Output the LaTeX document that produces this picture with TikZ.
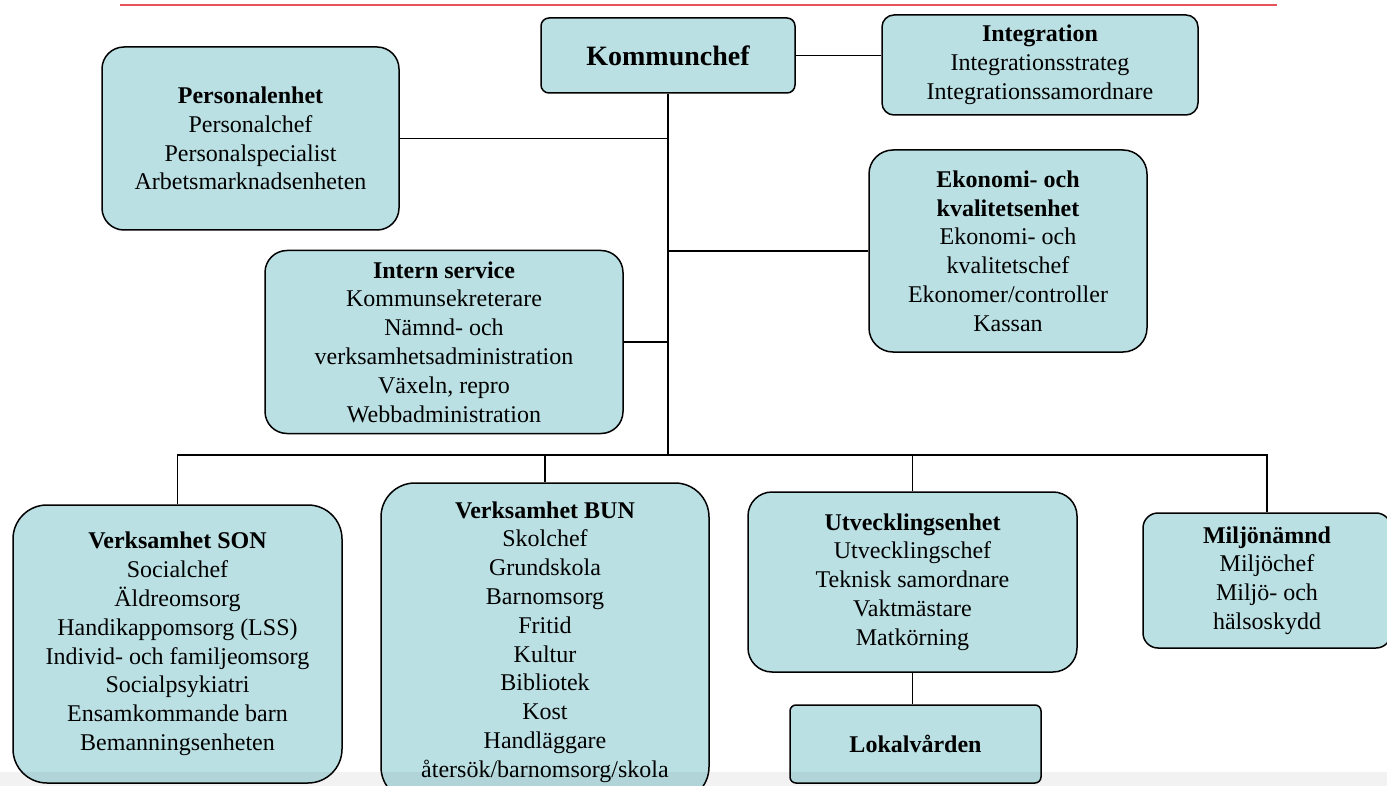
\documentclass[tikz,border=0pt]{standalone}
\usepackage{fontspec}
\setmainfont{Liberation Serif}
\usepackage{xcolor}
\definecolor{unitfill}{HTML}{BAE0E3}
\definecolor{topline}{HTML}{E8535A}
\usepackage{tikz}
\tikzset{
    unit/.style={
        draw, line width=0.75pt,
        fill=unitfill,
        rounded corners=#1,
        align=center,
        inner sep=0pt,
        font=\fontsize{12}{14.4}\selectfont
    },
    unit/.default=6pt,
    conn/.style={
        line width=0.75pt,
    },
}

\begin{document}
\begin{tikzpicture}[x=0.5pt, y=-0.5pt]
    \useasboundingbox (0,0) rectangle (1387,786);
    % Top rule
    \draw[topline, line width=1pt] (120,5) -- (1277,5);

    % Draw units
    \node[unit=4pt, minimum width=127pt, minimum height=37.5pt,
          font=\fontsize{14}{16}\selectfont\bfseries] (kc) at (668,55.5) {Kommunchef};
    \node[unit=6pt, minimum width=158pt, minimum height=50pt] (integ) at (1040,65)
        {\textbf{Integration}\\Integrationsstrateg\\Integrationssamordnare};
    \node[unit=11pt, minimum width=148.5pt, minimum height=91.5pt] (pers) at (250.5,138.5)
        {\textbf{Personalenhet}\\Personalchef\\Personalspecialist\\Arbetsmarknadsenheten};
    \node[unit=12pt, minimum width=139pt, minimum height=101pt] (ekon) at (1008,251)
        {\textbf{Ekonomi- och}\\\textbf{kvalitetsenhet}\\Ekonomi- och\\kvalitetschef\\Ekonomer/controller\\Kassan};
    \node[unit=11pt, minimum width=179pt, minimum height=91.5pt] (intern) at (444,342)
        {\textbf{Intern service}\\Kommunsekreterare\\Nämnd- och\\verksamhetsadministration\\Växeln, repro\\Webbadministration};
    \node[unit=17pt, minimum width=164.5pt, minimum height=139pt] (son) at (177.5,644)
        {\textbf{Verksamhet SON}\\Socialchef\\Äldreomsorg\\Handikappomsorg (LSS)\\Individ- och familjeomsorg\\Socialpsykiatri\\Ensamkommande barn\\Bemanningsenheten};
    \node[unit=17pt, minimum width=164pt, minimum height=159pt] (bun) at (545,642)
        {\textbf{Verksamhet BUN}\\Skolchef\\Grundskola\\Barnomsorg\\Fritid\\Kultur\\Bibliotek\\Kost\\Handläggare\\återsök/barnomsorg/skola};
    \node[unit=12pt, minimum width=164.5pt, minimum height=90pt] (utv) at (912.5,582)
        {\textbf{Utvecklingsenhet}\\Utvecklingschef\\Teknisk samordnare\\Vaktmästare\\Matkörning};
    \node[unit=3pt, minimum width=125.5pt, minimum height=39pt] (lokal) at (915.5,744)
        {\textbf{Lokalvården}};
    \node[unit=7.5pt, minimum width=124pt, minimum height=67.5pt] (miljo) at (1267,580.5)
        {\textbf{Miljönämnd}\\Miljöchef\\Miljö- och\\hälsoskydd};

    % Draw connections
    \coordinate (bus) at (668,455);
    \draw[conn] (kc.east) -- (kc.east -| integ.west);
    \draw[conn] (kc.south) -- (bus);
    \draw[conn] (pers.east) -- (pers.east -| bus);
    \draw[conn] (ekon.west) -- (ekon.west -| bus);
    \draw[conn] (intern.east) -- (intern.east -| bus);
    \draw[conn] (son.north) |- (miljo.north |- bus) -- (miljo.north);
    \foreach \u in {bun, utv}
        \draw[conn] (\u.north) -- (\u.north |- bus);
    \draw[conn] (utv.south) -- (utv.south |- lokal.north);

    % Page shadow
    \fill[black, opacity=0.05] (0,772) rectangle (1387,786);
\end{tikzpicture}
\end{document}
